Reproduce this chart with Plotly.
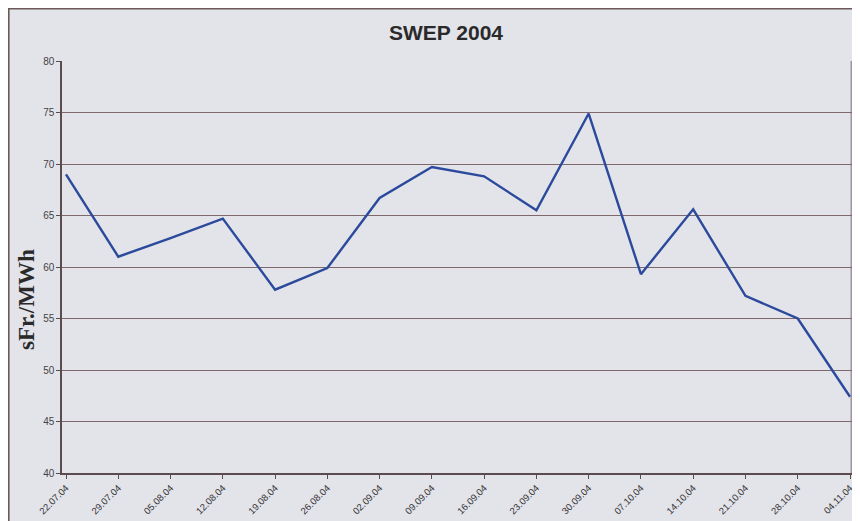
import plotly.graph_objects as go

dates = ["22.07.04", "29.07.04", "05.08.04", "12.08.04", "19.08.04", "26.08.04",
         "02.09.04", "09.09.04", "16.09.04", "23.09.04", "30.09.04", "07.10.04",
         "14.10.04", "21.10.04", "28.10.04", "04.11.04"]
prices = [69.0, 61.0, 62.8, 64.7, 57.8, 59.9, 66.7, 69.7, 68.8, 65.5, 74.9,
          59.3, 65.6, 57.2, 55.0, 47.4]
y_ticks = [40, 45, 50, 55, 60, 65, 70, 75, 80]

# page body has an 8px margin, so the figure starts at (8, 8)
W, H = 844, 513
L, R, T, B = 54, 0, 53, 48
pw, ph = W - L - R, H - T - B
step = (pw - 6) / 15.0

bg = "#e3e3ea"
grid = "#7f686c"
axis = "#5b4b4d"

fig = go.Figure()
fig.add_trace(go.Scatter(
    x=list(range(len(dates))), y=prices, mode="lines",
    line=dict(color="#2b4a9c", width=2.4), hoverinfo="skip", showlegend=False,
    cliponaxis=False))

fig.update_layout(
    width=W, height=H,
    margin=dict(l=L, r=R, t=T, b=B, pad=0, autoexpand=False),
    paper_bgcolor=bg,
    plot_bgcolor="rgba(0,0,0,0)",
    font=dict(family="Liberation Sans, Arial", color="#333"),
    title=dict(text="<b>SWEP 2004</b>", x=(438 - L) / pw, xref="paper", xanchor="center",
               y=1 - 25 / H, yref="container", yanchor="middle",
               font=dict(size=21, color="#2a2a2a", family="Liberation Sans, Arial")),
    xaxis=dict(
        range=[-4 / step, 15 + 2 / step],
        tickmode="array", tickvals=list(range(len(dates))), ticktext=dates,
        tickangle=-45, tickfont=dict(size=9.5, color="#333"),
        ticklabeloverflow="allow", automargin=False,
        showgrid=False, zeroline=False,
        showline=True, linecolor=axis, linewidth=1.5,
        ticks="outside", ticklen=4, tickcolor=axis, tickwidth=1.2),
    yaxis=dict(
        range=[40, 80], tickvals=y_ticks,
        tickfont=dict(size=10, color="#444"), automargin=False,
        showgrid=True, gridcolor=grid, gridwidth=1,
        zeroline=False,
        showline=True, linecolor=axis, linewidth=1.5,
        ticks="outside", ticklen=4, tickcolor=axis, tickwidth=1.2),
    shapes=[
        dict(type="rect", xref="paper", yref="paper",
             x0=(-L + 0.8) / pw, x1=1.2, y0=-0.3, y1=1 + (T - 0.8) / ph,
             fillcolor="rgba(0,0,0,0)", line=dict(color="#6b5858", width=1.6), layer="below"),
        dict(type="line", xref="paper", yref="paper", x0=1 - 0.8 / pw, x1=1 - 0.8 / pw,
             y0=0, y1=1, line=dict(color="#8a8488", width=1.2), layer="below"),
    ],
    annotations=[
        dict(text="<b>sFr./MWh</b>", xref="paper", yref="paper",
             x=(18 - L) / pw, y=(H - B - 292) / ph, textangle=-90,
             showarrow=False, xanchor="center", yanchor="middle",
             font=dict(family="Liberation Serif, Times New Roman", size=23, color="#2a2a2a")),
    ],
)

fig.write_html("out.html")
